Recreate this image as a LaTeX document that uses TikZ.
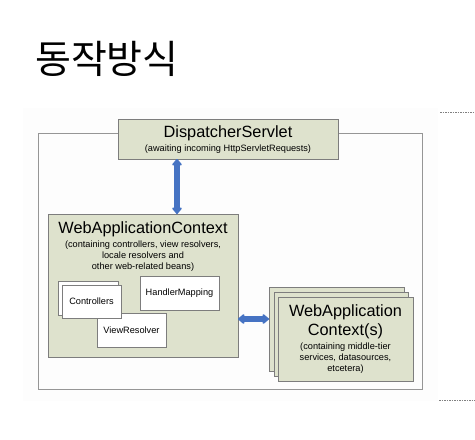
\documentclass[tikz,border=0pt]{standalone}
\usepackage{fontspec}
\setmainfont{Liberation Sans}
\newfontfamily\krfont{Noto Sans CJK KR}
\usetikzlibrary{arrows.meta}
\definecolor{boxfill}{RGB}{222,226,205}
\definecolor{boxline}{RGB}{125,125,125}
\definecolor{frameline}{RGB}{150,150,150}
\definecolor{arrowblue}{RGB}{70,115,195}
\definecolor{bgpanel}{RGB}{253,253,253}
\tikzset{
  box/.style={draw=boxline, fill=boxfill, line width=1pt, inner sep=0pt, outer sep=0pt},
  wbox/.style={draw=boxline, fill=white, line width=1pt, inner sep=0pt, outer sep=0pt},
  bigtext/.style={font=\fontsize{16.3}{19}\selectfont, inner sep=0pt, align=center},
  smalltext/.style={font=\fontsize{9.2}{11.3}\selectfont, inner sep=0pt, align=center},
  dblarrow/.style={draw=arrowblue, line width=5.5pt,
    {Triangle[width=11pt,length=7pt,round]}-{Triangle[width=11pt,length=7pt,round]}},
  dotline/.style={draw=gray, line width=0.6pt, dash pattern=on 1.5pt off 1pt}
}
\begin{document}
\begin{tikzpicture}[x=1pt,y=-1pt]
\useasboundingbox (0,0) rectangle (475,440);
% title
\node[anchor=west, inner sep=0pt, font=\krfont\fontsize{39}{43}\selectfont] (title) at (35,59) {동작방식};
% panel background
\fill[bgpanel] (23,108) rectangle (438,401);
% dotted guides
\coordinate (d1a) at (440,112); \coordinate (d1b) at (475,112);
\coordinate (d2a) at (439,400); \coordinate (d2b) at (475,400);
\draw[dotline] (d1a) -- (d1b);
\draw[dotline] (d2a) -- (d2b);
% outer frame
\draw[frameline, line width=1pt] (38,133) rectangle (422,389);
% DispatcherServlet
\node[box, minimum width=220pt, minimum height=40pt] (ds) at (228,139) {};
\node[bigtext] (dsT) at (228,133) {DispatcherServlet};
\node[smalltext] (dsS) at (228,149.5) {(awaiting incoming HttpServletRequests)};
% WebApplicationContext
\node[box, minimum width=190pt, minimum height=143pt] (wac) at (143,285.5) {};
\node[bigtext] (wacT) at (143,229) {WebApplicationContext};
\node[smalltext] (wacS) at (143,256) {(containing controllers, view resolvers,\\locale resolvers and\\other web-related beans)};
% inner beans
\node[wbox, minimum width=69pt, minimum height=34pt] (vr) at (131.5,330) {};
\node[smalltext] (vrT) at (131.5,330) {ViewResolver};
\node[wbox, minimum width=60pt, minimum height=34pt] (ctrlB) at (88,298) {};
\node[wbox, minimum width=59pt, minimum height=33pt] (ctrl) at (91.5,301.5) {};
\node[smalltext] (ctrlT) at (91.5,301.5) {Controllers};
\node[wbox, minimum width=79pt, minimum height=34pt] (hm) at (179.5,293) {};
\node[smalltext] (hmT) at (179.5,293) {HandlerMapping};
% stacked WebApplicationContext(s)
\node[box, minimum width=135pt, minimum height=84pt] (stB) at (336.5,329) {};
\node[box, minimum width=134pt, minimum height=84pt] (stM) at (341,334) {};
\node[box, minimum width=135pt, minimum height=84pt] (stF) at (345.5,339) {};
\node[bigtext] (stT) at (345.5,321.5) {WebApplication\\Context(s)};
\node[smalltext] (stS) at (345.5,358) {(containing middle-tier\\services, datasources,\\etcetera)};
% arrows
\draw[dblarrow] (ds.south -| 177,0) -- (wac.north -| 177,0);
\draw[dblarrow] (wac.east |- 0,319) -- (stB.west |- 0,319);
\end{tikzpicture}
\end{document}
